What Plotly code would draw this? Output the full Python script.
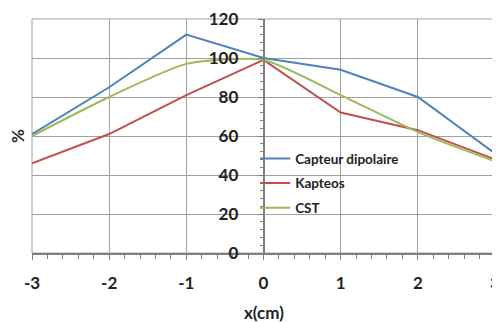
import plotly.graph_objects as go

x_vals = [-3, -2, -1, 0, 1, 2, 3]
capteur = [61, 85, 112, 100, 94, 80, 51]
kapteos = [46, 61, 81, 99, 72, 63, 48]
cst = [60, 80, 97, 99, 81, 62, 47]

x_ticks = [-3, -2, -1, 0, 1, 2, 3]
x_ticktext = ["-3", "-2", "-1", "0", "1", "2", "3"]
y_ticks = [0, 20, 40, 60, 80, 100, 120]

FONT = "Lato"
fig = go.Figure()
fig.add_trace(go.Scatter(x=x_vals, y=capteur, mode="lines", name="Capteur dipolaire",
                         legendgroup="a", line=dict(color="#4F81BD", width=2)))
fig.add_trace(go.Scatter(x=x_vals, y=kapteos, mode="lines", name="Kapteos",
                         legendgroup="b", line=dict(color="#C0504D", width=2)))
fig.add_trace(go.Scatter(x=x_vals, y=cst, mode="lines", name="CST",
                         legendgroup="c", line=dict(color="#9BBB59", width=2, shape="spline", smoothing=0.6)))

fig.update_layout(
    width=492, height=315,
    margin=dict(l=24, r=5, t=11, b=70),
    paper_bgcolor="white", plot_bgcolor="white",
    font=dict(family=FONT, size=17, color="#222222", weight="bold"),
    showlegend=True,
    legend=dict(x=0.482, y=0.469, xanchor="left", yanchor="top",
                bgcolor="rgba(0,0,0,0)", font=dict(size=13.5, family=FONT, weight="bold"),
                itemwidth=30, tracegroupgap=4),
    xaxis=dict(range=[-3, 3], tickvals=x_ticks, ticktext=x_ticktext, showgrid=True,
               gridcolor="#A0A0A0", gridwidth=1,
               zeroline=False, showline=True, linecolor="#7F7F7F", linewidth=1.5, mirror=False,
               ticks="outside", ticklen=5, tickcolor="#7F7F7F", ticklabelstandoff=9,
               ticklabeloverflow="allow", automargin=False,
               minor=dict(dtick=0.2, ticks="outside", ticklen=4, tickcolor="#7F7F7F", showgrid=False)),
    yaxis=dict(range=[0, 120], tickvals=y_ticks, showgrid=True, gridcolor="#A0A0A0", gridwidth=1,
               zeroline=False, showline=True, linecolor="#7F7F7F", linewidth=1.5,
               anchor="free", position=0.5, automargin=False,
               ticks="outside", ticklen=5, tickcolor="#7F7F7F", ticklabelstandoff=16,
               ticklabeloverflow="allow",
               minor=dict(dtick=4, ticks="outside", ticklen=3, tickcolor="#7F7F7F", showgrid=False)),
    annotations=[
        dict(text="x(cm)", xref="x", yref="paper", x=0, y=-0.256, xanchor="center", yanchor="middle",
             showarrow=False, font=dict(size=17, family=FONT, weight="bold")),
        dict(text="%", xref="paper", yref="paper", x=-0.0324, y=0.5, textangle=-90,
             xanchor="center", yanchor="middle", showarrow=False,
             font=dict(size=17, family=FONT, weight="bold")),
    ],
    shapes=[
        dict(type="rect", xref="paper", yref="paper", x0=0, y0=0, x1=1, y1=1,
             line=dict(color="#A0A0A0", width=1), layer="below"),
    ],
)

fig.write_html("out.html")
